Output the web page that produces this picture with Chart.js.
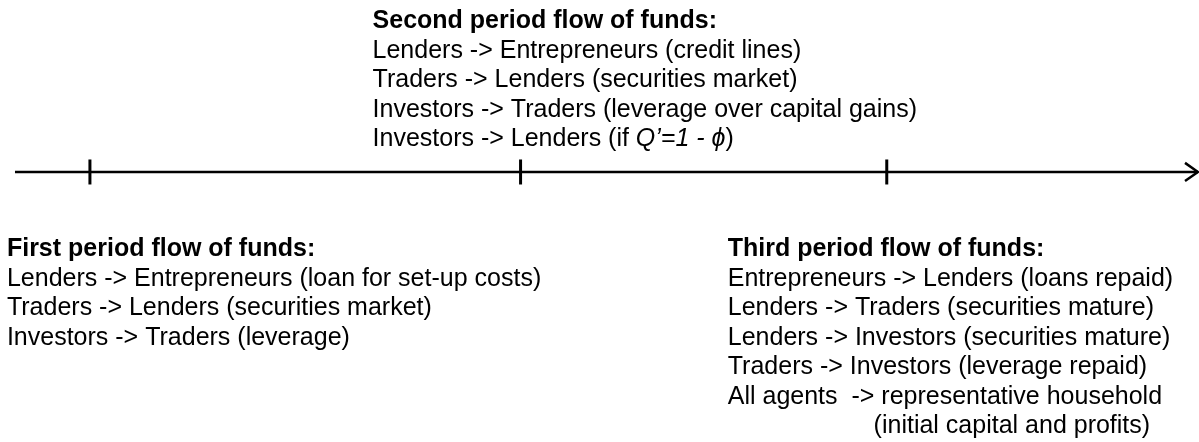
<!DOCTYPE html>
<html>
<head>
<meta charset="utf-8">
<script src="https://cdn.jsdelivr.net/npm/chart.js@4/dist/chart.umd.min.js"></script>
<style>
  html, body { margin: 0; padding: 0; background: #ffffff; }
  #wrap { width: 1199px; height: 442px; }
</style>
</head>
<body>
<div id="wrap"><canvas id="c" width="1199" height="442"></canvas></div>
<script>
// ---- data ----
const periodNames = ["First period", "Second period", "Third period"];
const periodTicks = [0.90, 5.21, 8.875];          // positions of the period marks on the time axis
const timelineStart = 0.15;
const timelineEnd = 11.99;
const firstFlows = [
  "Lenders -> Entrepreneurs (loan for set-up costs)",
  "Traders -> Lenders (securities market)",
  "Investors -> Traders (leverage)"
];
const secondFlows = [
  "Lenders -> Entrepreneurs (credit lines)",
  "Traders -> Lenders (securities market)",
  "Investors -> Traders (leverage over capital gains)",
  [["Investors -> Lenders (if ", false], ["Q\u2019=1 - ", true], ["\u03D5", true], [")", false]]
];
const thirdFlows = [
  "Entrepreneurs -> Lenders (loans repaid)",
  "Lenders -> Traders (securities mature)",
  "Lenders -> Investors (securities mature)",
  "Traders -> Investors (leverage repaid)",
  "All agents  -> representative household",
  "                     (initial capital and profits)"
];
const flowBlocks = [firstFlows, secondFlows, thirdFlows];

// ---- layout ----
const FONT = "'Liberation Sans', Arial, sans-serif";
const FS = 25;
const LH = 29.5;
const blockOffsetX = [-83, -148, -159];   // px from the tick mark
const blockTopBaseline = [256, 28, 256];

const textPlugin = {
  id: 'flowText',
  afterDraw(chart) {
    const ctx = chart.ctx;
    const xs = chart.scales.x;
    ctx.save();
    ctx.fillStyle = '#000';
    ctx.textBaseline = 'alphabetic';
    ctx.textAlign = 'left';
    flowBlocks.forEach((lines, i) => {
      const x0 = xs.getPixelForValue(periodTicks[i]) + blockOffsetX[i];
      let y = blockTopBaseline[i];
      ctx.font = `bold ${FS}px ${FONT}`;
      ctx.fillText(periodNames[i] + " flow of funds:", x0, y);
      lines.forEach(line => {
        y += LH;
        if (typeof line === 'string') {
          ctx.font = `${FS}px ${FONT}`;
          ctx.fillText(line, x0, y);
        } else {
          let x = x0;
          line.forEach(([t, it]) => {
            ctx.font = `${it ? 'italic ' : ''}${FS}px ${FONT}`;
            ctx.fillText(t, x, y);
            x += ctx.measureText(t).width;
          });
        }
      });
    });
    ctx.restore();
  }
};

const whiteBg = {
  id: 'whiteBg',
  beforeDraw(chart) {
    const ctx = chart.ctx;
    ctx.save();
    ctx.fillStyle = '#fff';
    ctx.fillRect(0, 0, chart.width, chart.height);
    ctx.restore();
  }
};

const arrowDx = 0.13, arrowDy = 0.053;

new Chart(document.getElementById('c'), {
  type: 'scatter',
  data: {
    datasets: [
      {
        label: 'timeline',
        data: [{x: timelineStart, y: 0}, {x: timelineEnd, y: 0}],
        showLine: true,
        borderColor: '#000',
        borderWidth: 2.5,
        pointRadius: 0
      },
      {
        label: 'arrowhead',
        data: [{x: timelineEnd - arrowDx, y: arrowDy}, {x: timelineEnd, y: 0}, {x: timelineEnd - arrowDx, y: -arrowDy}],
        showLine: true,
        borderColor: '#000',
        borderWidth: 2.5,
        borderJoinStyle: 'miter',
        pointRadius: 0
      },
      {
        label: 'periods',
        data: periodTicks.map(t => ({x: t, y: 0})),
        showLine: false,
        pointStyle: 'line',
        rotation: 90,
        pointRadius: 12.5,
        borderColor: '#000',
        backgroundColor: '#000',
        pointBorderWidth: 3
      }
    ]
  },
  options: {
    responsive: false,
    animation: false,
    devicePixelRatio: 1,
    layout: { padding: 0, autoPadding: false },
    plugins: { legend: { display: false }, tooltip: { enabled: false } },
    scales: {
      x: { type: 'linear', min: 0, max: 12, display: false },
      y: { type: 'linear', min: -1.57, max: 1, display: false }
    }
  },
  plugins: [whiteBg, textPlugin]
});
</script>
</body>
</html>
